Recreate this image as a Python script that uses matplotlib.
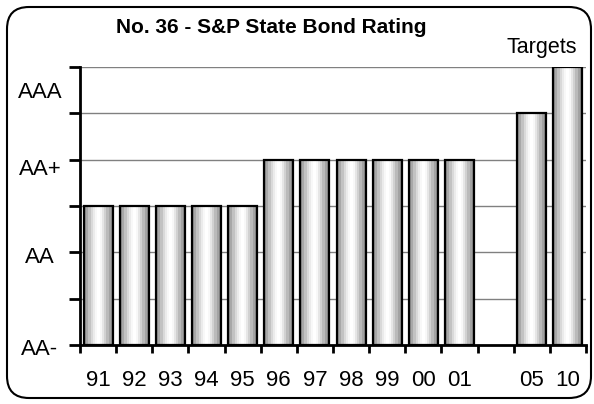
import matplotlib
matplotlib.use('Agg')
import matplotlib.pyplot as plt
import numpy as np
from matplotlib.patches import Rectangle, FancyBboxPatch
from matplotlib.transforms import blended_transform_factory

plt.rcParams['font.family'] = ['Liberation Sans', 'DejaVu Sans']

# data
years = ['91', '92', '93', '94', '95', '96', '97', '98', '99', '00', '01', '', '05', '10']
rating = [3, 3, 3, 3, 3, 4, 4, 4, 4, 4, 4, None, 5, 6]
rating_names = ['AA-', 'AA', 'AA+', 'AAA']
rating_pos = [-0.1, 1.89, 3.78, 5.46]

fig = plt.figure(figsize=(5.94, 4.04), dpi=100)
ax = fig.add_axes([80 / 594, 1 - 345 / 404, 506 / 594, 278 / 404])

# cylinder-like shading across each bar
shade = np.array([0.58, 0.66, 0.76, 0.85, 0.92, 0.97, 1.0, 0.97, 0.9, 0.82, 0.73, 0.64, 0.56])
w = 0.8
for i, v in enumerate(rating):
    if v is None:
        continue
    x0 = i - w / 2
    ax.imshow(shade[np.newaxis, :], cmap='gray', vmin=0, vmax=1,
              extent=[x0, x0 + w, 0, v], aspect='auto',
              interpolation='nearest', zorder=2)
    ax.add_patch(Rectangle((x0, 0), w, v, fill=False, ec='black', lw=1.6, zorder=3))

ax.set_xlim(-0.5, len(years) - 0.5)
ax.set_ylim(0, 6)

for y in range(1, 7):
    ax.axhline(y, color='#808080', lw=1, zorder=1)

ax.spines['top'].set_visible(False)
ax.spines['right'].set_visible(False)
ax.spines['left'].set_linewidth(2)
ax.spines['bottom'].set_linewidth(2)

ax.set_yticks(range(7))
ax.set_yticklabels([])
ax.tick_params(axis='y', direction='out', length=8, width=2)

ax.set_xticks(range(len(years)))
ax.set_xticklabels(years, fontsize=16)
ax.set_xticks(np.arange(len(years) + 1) - 0.5, minor=True)
ax.tick_params(axis='x', which='major', length=0, pad=18)
ax.tick_params(axis='x', which='minor', direction='out', length=6, width=2)

trans = blended_transform_factory(fig.transFigure, ax.transData)
for name, pos in zip(rating_names, rating_pos):
    ax.text(40 / 594, pos, name, transform=trans, ha='center', va='center',
            fontsize=16, clip_on=False)

fig.text(271 / 594, 1 - 33 / 404, 'No. 36 - S&P State Bond Rating',
         ha='center', va='baseline', fontsize=15, fontweight='bold')
fig.text(542 / 594, 1 - 53 / 404, 'Targets', ha='center', va='baseline', fontsize=15.5)

frame = FancyBboxPatch((0.07, 0.06), 5.84, 3.91,
                       boxstyle='round,pad=0,rounding_size=0.22',
                       transform=fig.dpi_scale_trans, fill=False,
                       ec='black', lw=1.5)
fig.patches.append(frame)

fig.savefig('out.png', dpi=100)
